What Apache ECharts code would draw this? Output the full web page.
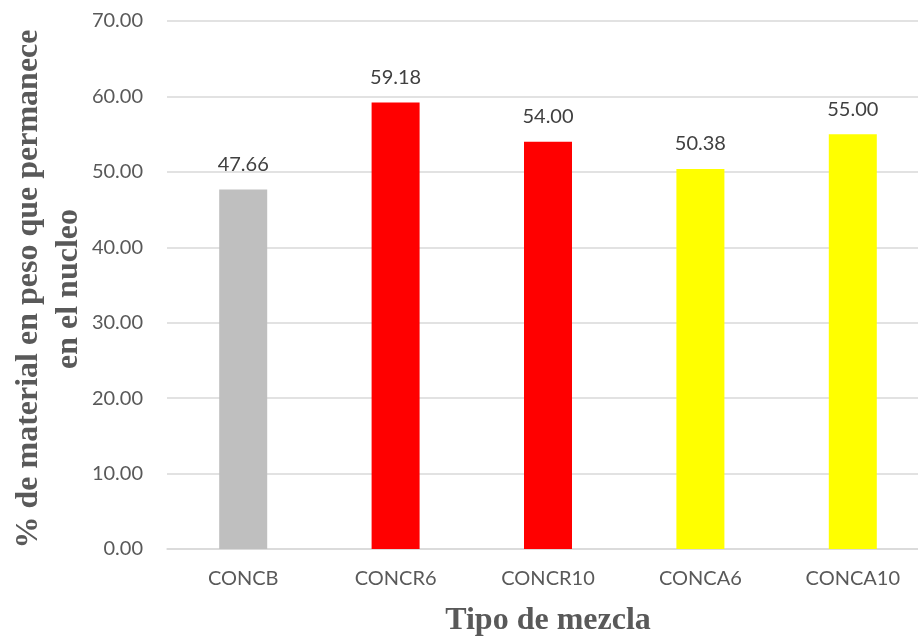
<!DOCTYPE html>
<html>
<head>
<meta charset="utf-8">
<script src="https://cdn.jsdelivr.net/npm/echarts@6/dist/echarts.min.js"></script>
<style>
    html, body { margin: 0; padding: 0; background: #fff; }
    #chart { width: 918px; height: 641px; }
</style>
</head>
<body>
<div id="chart"></div>
<script>
const categories = ['CONCB', 'CONCR6', 'CONCR10', 'CONCA6', 'CONCA10'];
const values = [47.66, 59.18, 54.00, 50.38, 55.00];
const barColors = ['#BFBFBF', '#FF0000', '#FF0000', '#FFFF00', '#FFFF00'];
const yTicks = [0, 10, 20, 30, 40, 50, 60, 70];
const yTitle = '% de material en peso que permanece\nen el nucleo';

const labelFont = 'Lato, "Open Sans", sans-serif';
const titleFont = '"Liberation Serif", "Times New Roman", serif';

function initChart() {
    const chart = echarts.init(document.getElementById('chart'));
    const option = {
        animation: false,
        grid: {
            left: 167,
            width: 762,
            top: 21,
            bottom: 92,
            outerBoundsMode: 'none',
            containLabel: false
        },
        // y axis title drawn as a rotated text block
        graphic: [{
            type: 'text',
            x: 49,
            y: 289,
            rotation: Math.PI / 2,
            style: {
                text: yTitle,
                fill: '#595959',
                fontFamily: titleFont,
                fontWeight: 'bold',
                fontSize: 32,
                lineHeight: 40,
                align: 'center',
                verticalAlign: 'middle',
                textAlign: 'center',
                textVerticalAlign: 'middle'
            }
        }],
        xAxis: {
            type: 'category',
            data: categories,
            axisLine: { lineStyle: { color: '#D9D9D9', width: 1.5 } },
            axisTick: { show: false },
            axisLabel: {
                color: '#595959',
                fontFamily: labelFont,
                fontSize: 20,
                margin: 20
            },
            name: 'Tipo de mezcla',
            nameLocation: 'middle',
            nameGap: 56,
            nameTextStyle: {
                color: '#595959',
                fontFamily: titleFont,
                fontWeight: 'bold',
                fontSize: 32
            }
        },
        yAxis: {
            type: 'value',
            min: yTicks[0],
            max: yTicks[yTicks.length - 1],
            interval: 10,
            axisLine: { show: false },
            axisTick: { show: false },
            splitLine: { lineStyle: { color: '#D9D9D9', width: 1.5 } },
            axisLabel: {
                color: '#595959',
                fontFamily: labelFont,
                fontSize: 20,
                margin: 24,
                formatter: v => v.toFixed(2)
            }
        },
        series: [{
            type: 'bar',
            barWidth: 48,
            data: values.map((v, i) => ({
                value: v,
                itemStyle: { color: barColors[i] }
            })),
            label: {
                show: true,
                position: 'top',
                distance: 15,
                color: '#404040',
                fontFamily: labelFont,
                fontSize: 20,
                formatter: p => p.value.toFixed(2)
            }
        }]
    };
    chart.setOption(option);
}

document.addEventListener('DOMContentLoaded', initChart);
</script>
</body>
</html>
